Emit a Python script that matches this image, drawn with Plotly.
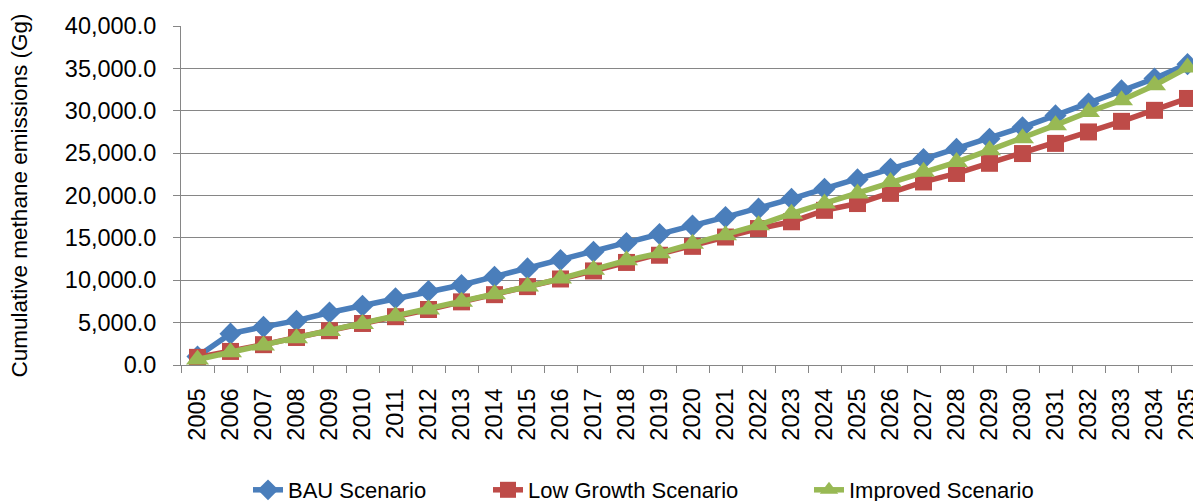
import plotly.graph_objects as go

years = [str(y) for y in range(2005, 2036)]

bau = [1000, 3700, 4500, 5230, 6200, 7000, 7870, 8730, 9440, 10420, 11400, 12390, 13370,
       14400, 15450, 16450, 17450, 18450, 19600, 20800, 21900, 23150, 24300, 25500,
       26700, 28050, 29450, 30850, 32400, 33800, 35500]
low = [900, 1600, 2400, 3250, 4050, 4900, 5700, 6550, 7450, 8300, 9250, 10150, 11100,
       12100, 12950, 14000, 15100, 16100, 16900, 18250, 19050, 20250, 21600, 22600,
       23800, 24950, 26150, 27500, 28750, 30050, 31450]
improved = [650, 1500, 2300, 3150, 4000, 4850, 5750, 6550, 7450, 8350, 9250, 10200, 11250,
            12350, 13200, 14300, 15300, 16500, 17850, 19050, 20250, 21600, 22800, 23950,
            25350, 26750, 28300, 29850, 31250, 33000, 35100]

series_names = ["BAU Scenario", "Low Growth Scenario", "Improved Scenario"]
colors = ["#4A7EBB", "#BE4B48", "#98B954"]
symbols = ["diamond", "square", "triangle-up"]
msizes = [17, 17, 20]
legend_ids = ["legend", "legend2", "legend3"]

W, H = 1193, 501
FONT = "Liberation Sans, Arial, sans-serif"

fig = go.Figure()
for name, vals, col, sym, ms, lg in zip(series_names, [bau, low, improved], colors, symbols, msizes, legend_ids):
    fig.add_trace(go.Scatter(
        x=years, y=vals, name=name, mode="lines+markers",
        line=dict(color=col, width=5.5),
        marker=dict(symbol=sym, size=ms, color=col, line=dict(width=0)),
        legend=lg,
    ))

left, top, bottom = 181, 26, 365
cat_px = 33.0  # category spacing in the reference; plot is cut at the right edge
right_range = -0.5 + (W - left) / cat_px

fig.update_layout(
    width=W, height=H,
    margin=dict(l=left, r=0, t=top, b=H - bottom, autoexpand=False),
    paper_bgcolor="white", plot_bgcolor="white",
    font=dict(family=FONT, size=22, color="#000000"),
    showlegend=True,
    xaxis=dict(
        type="category", range=[-0.5, right_range],
        showgrid=False, showline=True, linecolor="#868686", linewidth=1,
        ticks="outside", tickson="boundaries", ticklen=7, tickcolor="#868686",
        tickangle=-90, tickfont=dict(family=FONT, size=23.5),
        ticklabelstandoff=13,
    ),
    yaxis=dict(
        range=[0, 40000], dtick=5000, tickformat=",.1f",
        showgrid=True, gridcolor="#868686", gridwidth=1,
        showline=True, linecolor="#868686", linewidth=1,
        ticks="outside", ticklen=7, tickcolor="#868686",
        tickfont=dict(family=FONT, size=23.5),
        ticklabelstandoff=12,
        zeroline=False,
        title=dict(text="Cumulative methane emissions (Gg)", font=dict(family=FONT, size=22.5), standoff=30),
    ),
)

legend_x_px = [248, 488, 809]
for lg, xp in zip(legend_ids, legend_x_px):
    fig.update_layout({lg: dict(
        xref="container", yref="container",
        x=xp / W, y=11 / H, xanchor="left", yanchor="middle",
        orientation="h", bgcolor="rgba(0,0,0,0)",
        font=dict(family=FONT, size=22, color="#000000"),
    )})

fig.write_html("out.html", config={"displayModeBar": False},
               post_script="document.body.style.margin='0';document.body.style.overflow='hidden';")
